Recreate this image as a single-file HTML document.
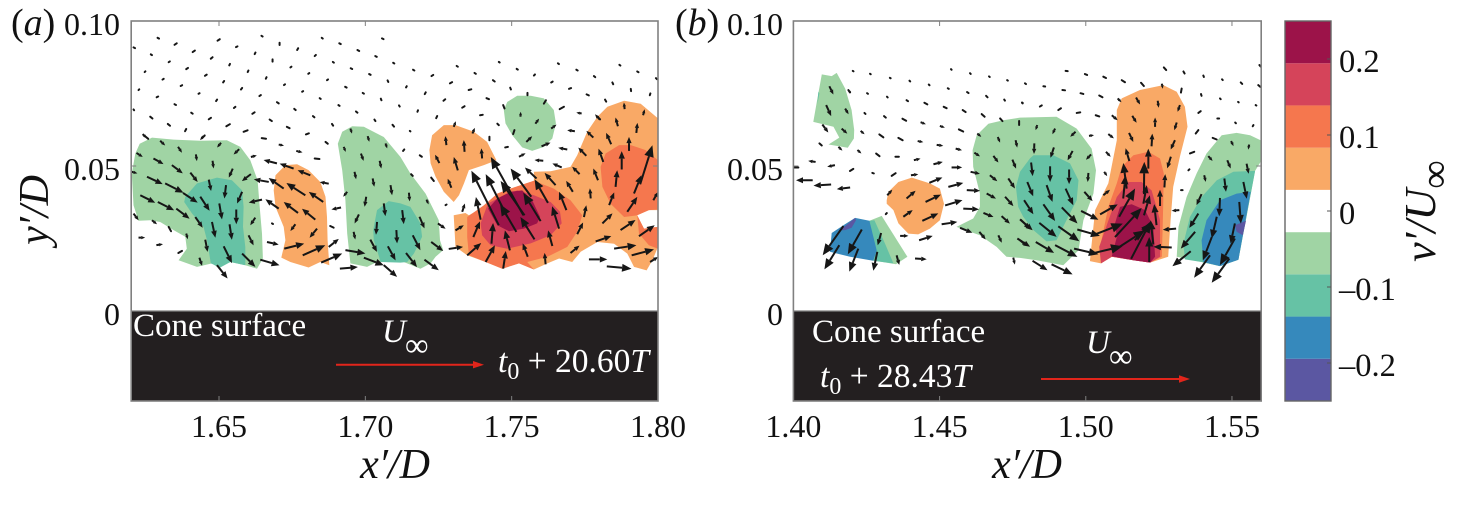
<!DOCTYPE html>
<html lang="en">
<head>
<meta charset="utf-8">
<title>Vertical velocity contours v'/U∞ with in-plane vectors over a cone surface</title>
<style>
html,body{margin:0;padding:0;background:#fff;}
svg{display:block;font-family:"Liberation Serif",serif;}
text{fill:#111;}
</style>
</head>
<body>
<svg id="chart" xmlns="http://www.w3.org/2000/svg" width="1477" height="507" viewBox="0 0 1477 507">
  <defs>
    <clipPath id="clip-a"><rect x="131.2" y="21" width="526.8" height="290"/></clipPath>
    <clipPath id="clip-b"><rect x="793.4" y="21" width="467.8" height="290"/></clipPath>
  </defs>
  <g id="panel-a">
    <rect x="131.2" y="311" width="526.8" height="90" fill="#231f20"/>
    <g id="contours-a" clip-path="url(#clip-a)"></g>
    <g id="vectors-a" clip-path="url(#clip-a)"></g>
    <g id="axis-a"></g>
    <text x="11" y="35" font-size="38"><tspan>(</tspan><tspan font-style="italic">a</tspan><tspan>)</tspan></text>
    <text x="395" y="478" font-size="42" text-anchor="middle" font-style="italic">x′/D</text>
    <text transform="translate(48,210) rotate(-90)" font-size="42" text-anchor="middle" font-style="italic">y′/D</text>
    <text x="133" y="336" font-size="33" style="fill:#fff">Cone surface</text>
    <text x="382" y="342" font-size="33" font-style="italic" style="fill:#fff">U</text>
    <text x="405" y="356" font-size="33" style="fill:#fff">∞</text>
    <text x="498" y="372" font-size="33.5" style="fill:#fff"><tspan font-style="italic">t</tspan><tspan font-size="24" dy="7">0</tspan><tspan dy="-7"> + 20.60</tspan><tspan font-style="italic">T</tspan></text>
    <g>
      <line x1="336" y1="364.7" x2="476" y2="364.7" stroke="#e1251b" stroke-width="2"/>
      <polygon points="484,364.7 473,361 473,368.4" fill="#e1251b"/>
    </g>
  </g>
  <g id="panel-b">
    <rect x="793.4" y="311" width="467.8" height="90" fill="#231f20"/>
    <g id="contours-b" clip-path="url(#clip-b)"></g>
    <g id="vectors-b" clip-path="url(#clip-b)"></g>
    <g id="axis-b"></g>
    <text x="675" y="35" font-size="38"><tspan>(</tspan><tspan font-style="italic">b</tspan><tspan>)</tspan></text>
    <text x="1027" y="478" font-size="42" text-anchor="middle" font-style="italic">x′/D</text>
    <text x="812" y="342" font-size="33" style="fill:#fff">Cone surface</text>
    <text x="1086" y="353" font-size="33" font-style="italic" style="fill:#fff">U</text>
    <text x="1109" y="367" font-size="33" style="fill:#fff">∞</text>
    <text x="820" y="387" font-size="33.5" style="fill:#fff"><tspan font-style="italic">t</tspan><tspan font-size="24" dy="7">0</tspan><tspan dy="-7"> + 28.43</tspan><tspan font-style="italic">T</tspan></text>
    <g>
      <line x1="1041" y1="379" x2="1182" y2="379" stroke="#e1251b" stroke-width="2"/>
      <polygon points="1190,379 1179,375.3 1179,382.7" fill="#e1251b"/>
    </g>
  </g>
  <g id="colorbar"></g>
  <text transform="translate(1435,211) rotate(-90)" font-size="44" text-anchor="middle"><tspan font-style="italic">v′/U</tspan><tspan font-size="40" dy="13">∞</tspan></text>
</svg>
<script>
// Axis limits and ticks
const xLimitsA = [1.62, 1.80];
const xLimitsB = [1.40, 1.56];
const yLimits = [-0.031, 0.10];
const xTicksA = [1.65, 1.70, 1.75, 1.80];
const xTickLabelsA = ["1.65", "1.70", "1.75", "1.80"];
const xTicksB = [1.40, 1.45, 1.50, 1.55];
const xTickLabelsB = ["1.40", "1.45", "1.50", "1.55"];
const yTicks = [0, 0.05, 0.10];
const yTickLabels = ["0", "0.05", "0.10"];

// Colour bar values
const colorbarEdges = [-0.25, -0.1944, -0.1389, -0.0833, -0.0278, 0.0278, 0.0833, 0.1389, 0.1944, 0.25];
const colorbarTicks = [0.2, 0.1, 0, -0.1, -0.2];
const colorbarTickLabels = ["0.2", "0.1", "0", "–0.1", "–0.2"];

// Contour boundaries: [x'/D * 1000, y'/D * 1000]
const greenA1 = [[1622.9,57.7],[1627.1,59.8],[1634.5,59.1],[1643.6,58.7],[1652.7,58.9],[1657.3,56.6],[1660.7,52],[1663.2,45.1],[1663.9,35.9],[1664.7,26.7],[1665,18.1],[1663,14.6],[1659,15.8],[1653.9,16.9],[1649.3,15.2],[1647.6,16.4],[1642.5,15.2],[1636.2,17.5],[1639,21.5],[1638.5,25.6],[1634.5,27.9],[1629.9,30.7],[1626.5,31.3],[1622.5,31.1],[1620.8,36.5],[1620.2,47.4],[1621.4,54.3]];
const tealA1 = [[1638.5,39.4],[1642.5,44],[1649.3,46],[1654.4,45.1],[1657.9,41.6],[1658.4,35.9],[1658.2,29],[1659,22.1],[1659,15.8],[1653.9,16.9],[1650.4,15],[1647.2,16.4],[1645.9,24.4],[1644.7,29],[1640.8,33.6],[1638.1,37.6]];
const orangeA1 = [[1669.3,46.8],[1672.7,50.3],[1676.7,50.6],[1680.6,48.6],[1684.6,44.5],[1686.4,39.4],[1686.9,32.4],[1687.1,24.4],[1687.7,15.8],[1684.6,16.9],[1680.6,15],[1674.4,16.9],[1671.3,18.4],[1672.7,24.4],[1672.1,29],[1669.3,35.9],[1668.7,41.6]];
const greenA2 = [[1690.6,57.7],[1692.1,61.8],[1695.5,63.7],[1699.5,63.5],[1706.3,60],[1712,53.1],[1715.4,47.4],[1720.6,40.5],[1725.1,31.3],[1725.5,24.4],[1726.6,21],[1724,18.7],[1722.3,16.4],[1718.8,14.6],[1713.1,16.9],[1704,16.9],[1700.6,15.2],[1694.9,16.4],[1693.8,26.7],[1693.2,38.2],[1692.1,48.6]];
const tealA2 = [[1702.7,27.9],[1704,34.8],[1708,37.9],[1712,37.1],[1715.4,35.9],[1718.8,30.2],[1719.4,25.6],[1716.6,19.8],[1714.3,16.9],[1712,16.7],[1705.2,16.9],[1704,21],[1702.9,24.4]];
const orangeA2 = [[1721.9,55.5],[1722.8,60.6],[1726.8,64.1],[1730.8,64.1],[1737.1,61.8],[1741.6,58.3],[1744.8,52],[1740.5,50.3],[1735.4,48.6],[1733.7,44],[1732,39.9],[1730.2,37.6],[1726.8,41.1],[1724,46.3],[1722.3,50.9]];
const greenA3 = [[1747.3,69.3],[1748.5,72.1],[1751.9,74.2],[1756.5,74.2],[1761,73.3],[1764.4,69.3],[1765.1,64.7],[1763.9,59.5],[1761,56.6],[1757,55.2],[1753.6,56.4],[1750.2,60.6],[1747.9,64.7]];
const orangeA3 = [[1730.2,33],[1734.2,33.8],[1735.4,33],[1740.5,35.9],[1745.1,40.5],[1749.6,42.2],[1757.6,44.9],[1757.6,48],[1763.3,48.2],[1770.1,49.7],[1772.4,53.7],[1775.8,61.8],[1779.3,67],[1782.7,70.4],[1788.4,72.5],[1794.1,71.5],[1800,66.4],[1800,34.8],[1796.9,34.8],[1792.9,33],[1795.2,28.4],[1800,29],[1800,22.1],[1798.1,17.5],[1796.1,14],[1791.8,15.2],[1789.5,19.8],[1785,23.2],[1779.3,23.8],[1773.6,20.4],[1770.7,16.9],[1766.2,18.1],[1762.2,16.4],[1757.6,14.3],[1752.5,16.4],[1746.8,14.6],[1741.1,16.9],[1734.8,19.2],[1730.8,22.1]];
const redA1 = [[1734.8,32.4],[1740.5,36.5],[1745.1,40.5],[1749.6,42.2],[1757.6,44.9],[1764.4,42.2],[1770.1,38.2],[1774.1,33],[1772.4,27.3],[1769,22.1],[1762.2,18.7],[1755.3,16.9],[1757.6,14.3],[1752.5,16.4],[1746.8,14.6],[1741.1,16.9],[1735.4,19.2],[1734.8,25.5]];
const pinkA1 = [[1739.4,30.2],[1741.9,37.1],[1746.2,39.3],[1751.9,41.6],[1757.6,39.9],[1763.3,37.6],[1766.5,34.2],[1767.1,30.2],[1763.3,26.1],[1756.5,23.3],[1748.5,21.5],[1742.8,22.7],[1739.9,26.1]];
const wineA1 = [[1741.9,35.3],[1745.1,38.8],[1749.6,41.1],[1753.6,41.6],[1757,38.2],[1759.7,32.4],[1758.7,30.2],[1754.2,28.4],[1749.1,27.5],[1745.1,29.6]];
const redA2 = [[1780.4,49.7],[1782.1,54.3],[1786.7,57.2],[1790.7,57.2],[1795.8,55.5],[1800,52],[1800,35],[1796.9,34.8],[1792.9,33],[1788.4,32.4],[1783.8,37],[1781,42.8]];
const redA3 = [[1792.9,33],[1795.2,28.4],[1800,29],[1800,21.5],[1796.9,22.7],[1793.5,26.7]];

const greenB1 = [[1409.7,81.6],[1413.1,81],[1414.8,82.1],[1417.7,76.7],[1419.9,69.3],[1420.8,62.4],[1420.7,59.5],[1418.6,56.3],[1412,57.4],[1415.7,59.8],[1413.7,63.5],[1406.8,65.2],[1408,72.1]];
const tealB1 = [[1408.5,75.6],[1408.9,75],[1408.2,71.3]];
const orangeB1 = [[1431.9,38.2],[1432.5,41.1],[1435.9,44.5],[1440.5,46],[1446.7,44],[1450.1,42.2],[1451.5,37],[1450.1,31.3],[1446.7,28.4],[1442.7,26.4],[1439.3,26.7],[1435.9,30.2],[1434.2,34.8],[1431.9,37]];
const greenB2 = [[1426,31.1],[1430.2,32.8],[1439,18.7],[1435.1,16.1],[1426.8,17.5]];
const tealB2 = [[1426,31.1],[1427.7,31.3],[1431.3,23.3],[1434.2,16.4],[1427.3,17.3]];
const blueB1 = [[1413.1,26.9],[1417.1,29.6],[1421.1,32.1],[1426,31.1],[1428.5,20.9],[1427.3,17.3],[1419.4,18.7],[1412.5,20.4]];
const purpleB1 = [[1415.4,27.8],[1417.7,29.3],[1421.1,32.1],[1421.4,31.3],[1419.9,28.7],[1417.7,27.9]];
const greenB3 = [[1461.3,55.5],[1462.7,60.6],[1466.7,64.6],[1471.8,65.8],[1477.5,66.7],[1490,67],[1496.9,62.9],[1502,56],[1503.5,48.5],[1502.6,40.5],[1499.2,31.3],[1497.5,20.9],[1492.3,15.8],[1483.2,17.5],[1477.5,18.3],[1472.9,18.7],[1469.5,22.1],[1463.8,26.1],[1455.8,29],[1461.5,31.9],[1463.8,35.9],[1463.8,40.5],[1461.5,49.7]];
const tealB3 = [[1476.1,42.8],[1477.5,48],[1480.9,52.6],[1482.1,53.7],[1488.9,53.7],[1494.6,50.9],[1497.5,45.1],[1496.9,38.2],[1494,32.5],[1490,24.4],[1486.6,24],[1482.1,27.9],[1478.6,32.5],[1476.9,35.9]];
const orangeB2 = [[1510.6,69.3],[1512.3,73.3],[1518.5,76.2],[1526.5,77.9],[1531.1,75.6],[1533.9,70.4],[1534.8,63.5],[1532.2,53.2],[1529.9,42.8],[1529,31.3],[1528.2,18.7],[1522,16.7],[1516.3,17.5],[1508.9,18.7],[1505.2,16.4],[1501.4,17.2],[1503.2,34.8],[1507.7,44],[1510.6,58.9]];
const redB1 = [[1512.3,49.7],[1516.3,53.7],[1521.4,54.9],[1525.4,52.6],[1526.7,47.4],[1526.5,38.2],[1526.3,29],[1526,18.7],[1522,16.7],[1516.3,17.5],[1508.9,18.7],[1505.2,16.4],[1504.9,22.1],[1507.7,35.9],[1510.6,44]];
const pinkB1 = [[1514.6,44.5],[1519.1,44.5],[1522.5,41.6],[1524.2,35.9],[1525.4,31.3],[1525.4,18.7],[1522,16.7],[1516.3,17.5],[1508.9,18.7],[1505.2,16.4],[1504.6,22.1],[1507.4,30.2],[1510.6,39.3]];
const wineB1 = [[1511.7,35.9],[1515.7,36.8],[1520.3,34.8],[1523.1,29],[1523.7,18.7],[1522,16.7],[1516.3,17.5],[1508.9,18.9],[1510.6,25.5],[1510,30.2]];
const greenB4 = [[1531.1,18.7],[1531.7,29],[1534.5,39.3],[1537.9,47.4],[1541.3,54.3],[1546.5,60.6],[1551.6,61.4],[1556.2,60.6],[1559.8,58.9],[1559.8,51.4],[1557.9,48.3],[1552.2,17.7],[1545.9,15.5],[1539.6,16.9]];
const tealB4 = [[1533.9,17.8],[1533.4,23.2],[1535.6,32.4],[1539.6,39.3],[1544.8,45.1],[1550.5,48],[1557.9,48.3],[1552.2,17.7],[1545.9,15.5],[1539.6,16.9]];
const blueB2 = [[1539.6,24.4],[1541.3,31.3],[1545.9,38.2],[1551.6,40.5],[1556.4,41.1],[1552.2,17.7],[1545.9,15.5],[1540.2,16.9]];
const purpleB2 = [[1551,29.6],[1554.8,31.1],[1553.7,26.1],[1551.6,27.3]];

// Draw order with the v'/U contour value of each filled region
const regionsA = [
  ["green-a1", -0.056, greenA1], ["teal-a1", -0.111, tealA1], ["orange-a1", 0.056, orangeA1],
  ["green-a2", -0.056, greenA2], ["teal-a2", -0.111, tealA2], ["orange-a2", 0.056, orangeA2],
  ["green-a3", -0.056, greenA3], ["orange-a3", 0.056, orangeA3], ["red-a1", 0.111, redA1],
  ["pink-a1", 0.167, pinkA1], ["wine-a1", 0.222, wineA1], ["red-a2", 0.111, redA2], ["red-a3", 0.111, redA3]
];
const regionsB = [
  ["green-b1", -0.056, greenB1], ["teal-b1", -0.111, tealB1], ["orange-b1", 0.056, orangeB1],
  ["green-b2", -0.056, greenB2], ["teal-b2", -0.111, tealB2], ["blue-b1", -0.167, blueB1], ["purple-b1", -0.222, purpleB1],
  ["green-b3", -0.056, greenB3], ["teal-b3", -0.111, tealB3], ["orange-b2", 0.056, orangeB2], ["red-b1", 0.111, redB1],
  ["pink-b1", 0.167, pinkB1], ["wine-b1", 0.222, wineB1], ["green-b4", -0.056, greenB4], ["teal-b4", -0.111, tealB4],
  ["blue-b2", -0.167, blueB2], ["purple-b2", -0.222, purpleB2]
];

// Velocity vectors: [x'/D * 1000, y'/D * 1000, u/U * 100, v/U * 100]
const calmVectorsA = [
[1629,94.2,1,-.5],[1620.8,90.9,1,-.5],[1634.8,91.8,1.5,1],[1649.5,93.2,1.5,1],[1664.5,94.9,.8,-.5],[1670.7,92.5,0,-1.5],[1685.1,94.2,.7,-.5],[1691.1,92.3,1,-.5],[1705.7,94,1,-.5],
[1641,89.3,1.5,1],[1655.8,91,1,.5],[1626.7,88.5,.8,-.5],[1662.2,88.6,.5,1],[1676.7,90,.7,1.2],[1697.3,90,1.2,-.7],[1647.2,87,1.2,1],[1632.8,85.8,.8,.5],[1653.5,84.7,.5,1],[1668.3,86,0,1.5],[1682.7,87.9,.8,.8],[1688.9,85.9,.7,-.5],[1703.4,87.9,1,-.5],
[1624.6,82.4,.5,.5],[1638.8,83.4,1.2,.8],[1659.8,82.4,.5,1],[1674.4,84,.7,.5],[1695,83.7,1,-.5],[1709.5,85.6,.8,-.5],[1630.7,79.8,.8,.5],[1645.2,81.1,1.2,.8],[1666,80.1,.5,1],[1680.5,81.8,.7,.5],[1701.3,81.7,1,-.5],
[1622.5,76.2,.5,.5],[1636.9,77.6,1,.5],[1651.4,78.8,.7,1],[1672.2,77.9,.7,.5],[1686.9,79.6,.7,.5],[1707.6,79.5,.5,-1],[1628.7,73.7,1,.5],[1643,74.9,.7,.4],[1657.5,76.4,.8,1],[1678.4,75.6,.7,.4],[1693.1,77.3,1,-.5],
[1634.8,71.3,1,-.5],[1649,72.4,.7,1],[1663.8,74.1,1,.7],[1684.4,73.4,.7,-.5],[1699.1,75.2,.8,-.5],[1705.3,73.2,.4,-1],[1620.8,69.5,.4,-.5],[1640.5,68.4,1,-.7],[1655.1,70,1,.8],[1669.8,72,1.2,-.8],[1690.8,71,.8,-.5],[1711.5,70.9,.5,-.8],
[1626.5,67,1.5,-1.2],[1646.5,66.1,1.5,1],[1661.4,68,1.5,1],[1675.7,69.7,1,-.8],[1696.8,68.8,1,-.8],[1632.5,64.5,1.5,-1.2],[1652.5,63.7,2.4,1.4],[1667.3,66,1.5,-1],[1682.1,67.2,1,-.8],[1703.1,66,.7,-1],
[1638.4,62,.8,1.5],[1658.4,61.8,2.7,1],[1673.2,63.5,1.8,-.9],[1688.6,64.5,.8,-1.2],[1709.3,64.2,1,-1.2],[1624.6,60.4,2.4,-2],[1644.2,59.6,1.8,1.8],[1664.6,59.6,2.9,-.4],[1679.7,60.9,2,.7],[1670.4,57.4,3.6,-.8],[1686.4,58.3,1.5,-1.2],[1676.4,55.2,4.2,-1],[1682.7,52.6,3.2,-.4],
[1716.3,83.2,.9,-.5],[1731.2,84.5,.8,-.5],[1745.6,85.9,.6,-.4],[1765.8,85.4,.7,-.5],[1786.8,84.9,.7,-.5],[1722.6,81,1.2,.8],[1737.3,82.1,.9,-.6],[1751.7,83.5,.8,-.5],[1772.1,83.2,.9,-.5],[1792.9,82.6,.9,-.5],
[1713.9,77.1,.5,.8],[1728.9,78.5,1.5,.8],[1743.6,79.6,1.2,-.9],[1757.6,81.2,.7,.7],[1778.1,81,.9,-.7],[1799.3,80.3,.7,-.7],[1720.3,74.8,.7,1.2],[1735.3,76.2,1.8,.5],[1749.5,77,.5,-1.2],[1763.5,78.8,1,.6],[1784.4,78.8,.6,-1.2],
[1726.7,72.5,1.2,1],[1741.4,73.4,1.7,-.7],[1769.6,76.6,1.4,.5],[1790.7,76.6,.2,-1.5],[1717.8,68.7,.4,1],[1733.1,70.1,1.6,1],[1755.4,74.4,0,1.6],[1775.6,74.7,1.5,-.7],[1797.2,74.4,.4,1.2],
[1724.2,66.5,.7,1.4],[1739.2,67.5,1.8,.3],[1781.9,72.9,.8,-1.4],[1715.2,62.1,.4,-.3],[1745.1,64.6,1,-1],[1779.3,67,1.8,-1.8],[1712.9,55.2,.8,1],[1718.6,53.7,1.4,-1],[1747.8,56.4,1.8,.4]
];
const flowVectorsA1 = [
[1621.8,54.5,4.3,-2.7],[1627.6,52.6,6.8,-3.8],[1633.9,50.3,7.4,-5.6],[1620.2,48,3.8,-1.1],[1625.4,46.3,10.6,-5],[1631.6,44,12.4,-6.3],[1637.7,40.7,9.9,-6.5],[1623.1,39.9,10.1,-5],[1629.1,37.6,11,-5.6],[1635.4,35.3,9,-6.8],
[1620.8,33.6,3.4,-4.5],[1627.1,31.3,3.4,-2.7],[1632.8,29,1.6,-2.9],[1622.5,25.3,4.5,0],[1628.6,22.7,4.5,.7],[1636.1,20,2.5,1.4],[1638.8,26.7,1.1,-3.8],[1641.9,32.4,5,-7.2],[1640.2,47.7,5,-6.3],[1642.1,54,.7,-4.5],[1636,56.6,2.7,-4],[1629.9,58.7,3.4,-3.2],[1623.9,61,2.9,-2.7],
[1644.7,60.3,-2.3,-2.7],[1650.7,58,-2.7,-3.2],[1647.8,51.8,.7,-5.2],[1654.7,49.1,-2.7,-6.1],[1656.9,55.8,-3.8,-3.6],[1660.9,47.2,-6.1,-4.7],[1646.5,45.3,1.6,-7.7],[1652.4,43.4,-1.1,-9],[1657.9,41.1,-3.4,-7.9],[1643.6,39.4,6.3,-9.5],[1650.1,37.1,1.8,-10.8],[1655.9,35,0,-9.9],[1662.4,32.2,-3.4,-5.2],
[1647.6,30.7,2.3,-10.6],[1653.6,29.9,1.6,-10.4],[1660.1,26.1,3.4,-6.8],[1645.3,24.6,1.6,-8.3],[1651.6,22.3,5.6,-11.3],[1657.9,19.8,9,-9],[1643.3,18.4,1.8,-5.6],[1649.3,15.8,7.2,-9],[1664.1,17.7,13,-3.8],[1666.4,23.8,7.9,-1.8],[1668.1,30.2,.7,-.4],[1660.9,53.1,4,1.1],
[1675.5,49.1,-9.5,3.4],[1681.2,46.8,-8.6,3.4],[1687.5,43.9,-6.1,1.1],[1669.8,50.9,-9,2.3],[1667,44.5,-10.1,1.8],[1672.1,42.2,-10.1,7.2],[1679.5,39.9,-12.8,8.3],[1685.6,37.6,-9.7,6.8],[1664.7,38.4,-9,-2],[1670.4,35.3,-9,6.3],[1677,33.8,-9.7,7.4],[1682.9,31.5,-9,7.4],[1676.1,29.9,-3.4,-4.5],[1683.5,28.4,-5,-6.1],
[1672.3,21.5,13.5,3.4],[1678.6,19.2,15.3,6.8],[1684.9,16.7,14.2,6.1],[1687.5,22.1,6.8,5.4],[1691.3,14.6,12.2,1.1],[1693.2,21,13.5,-2.3],[1699.5,18.4,13.5,-5.2],[1688,29.3,2.3,-1.1],[1691.7,35.7,-6.5,-1.4],[1693.8,41.1,-2.7,-3.4],
[1698.5,54.3,1.8,-5],[1692.6,56.6,1.4,-3.4],[1694.9,62.9,1.1,-3.4],[1700.8,60.3,1.1,-3.8],[1706.9,57.8,1.1,-3.4],[1704.9,51.8,1.1,-5.2],[1696.3,48,1.1,-5],[1702.5,45.7,1.1,-5.6],[1708.6,43.4,1.1,-6.8],[1700.3,39.4,-1.1,-6.8],[1706.3,37.1,1.1,-8.6],[1697.8,33.3,-2.9,-6.1],[1704,30.7,-.7,-8.6],[1710.6,27.9,.5,-9],[1696,27.3,1.1,-5.2],[1701.7,24.6,4.5,-8.3],[1707.7,22.3,5.2,-9.5],[1706.3,15.8,9,-7.9]
];
const flowVectorsA2 = [
[1714.9,40.8,.5,-5.9],[1720.9,38.4,1.4,-3.2],[1712.6,34.8,1.1,-9.5],[1718.5,32.5,3.4,-7.9],[1724.8,30.2,5.2,-3.6],[1716.2,26.1,5.2,-10.1],[1722.5,23.8,8.1,-6.1],[1713.9,20,7.4,-9.5],[1720.2,17.7,9.7,-7.2],[1728.5,21.4,9.7,1.4],[1716.2,46.6,-1.1,1.1],[1722.5,46,1.8,-2.3],
[1727.7,57.2,-.7,6.1],[1733.9,54.9,-.5,7.9],[1739.9,52.6,-.5,6.8],[1725.3,51,-2.9,5.6],[1731.6,48.5,-2.7,9],[1729.4,42.5,-2.5,6.1],[1730.2,63.5,1.4,3.8],[1736.6,61.2,1.6,3.8],[1742.4,58.9,0,2.3],[1733.1,34.2,1.8,5.6],[1727.4,36.5,.7,.4],
[1754,33,-22,39.4],[1745.6,29.6,-18.5,36.7],[1748.5,32.5,-14.6,28.8],[1756.7,39.4,-14,19.1],[1759.9,31,-11.7,19.1],[1754.4,33,-16.2,23.2],[1739.4,31.5,-3.2,15.3],[1751.6,27.3,-11,18.7],[1757.8,24.7,-9.5,15.1],[1762.4,37.3,-9,15.8],[1758.5,45.7,-7.9,7.4],[1766.2,28.4,-4.7,15.1],[1768.7,34.8,-5,12.4],[1770.9,41.1,-4.5,7.4],[1765,43.4,-7.4,8.3],
[1736.9,25.5,4.5,10.6],[1741.1,16.9,6.3,11.3],[1734.8,19.2,9.5,8.3],[1749.4,20.9,-3.4,13.5],[1743.1,23.2,1.1,14],[1755.5,18.7,-3.4,9],[1763.9,22.4,-2.9,10.6],[1747.1,14.6,1.8,11.9],[1761.6,16.1,-.7,7.7],[1730.8,27.8,5.6,3.4],[1770.1,20,6.1,5],
[1772.4,26.5,4,7.9],[1774.7,32.4,1.6,7.9],[1777,38.8,-.5,6.8],[1779.5,45.1,-3.2,7.9],[1773.2,47.2,-5,5],[1781.3,51.4,-3.2,9],[1775.5,53.5,-5.4,5.6],[1784,57.5,-3.4,7.7],[1777.9,59.8,-4.7,4.5],[1786.3,63.7,-1.6,5.9],[1780.1,66,-3.2,3.6],[1788.6,69.6,-.5,4.5],[1794.9,67.5,1.1,4],[1792.6,61.4,.7,6.8],[1790.1,55.2,0,9.5],[1787.6,48.8,0,12.4],[1785.5,42.8,1.1,11.3],[1783.3,36.5,3.4,8.6],[1781,30.2,6.8,6.8],[1789.5,34.2,6.8,10.1],[1791.8,40.5,5,12.4],[1793.9,43.7,8.3,26.3],[1798.4,38.2,3.2,5.6],
[1787.2,27.9,10.1,6.8],[1778.7,24,10.6,3.6],[1793.5,25.8,10.6,7.4],[1785,21.5,15.1,2.3],[1791,19.2,15.1,4],[1782.5,15.4,16.7,-1.6],[1776.4,17.8,12.4,0],[1797.3,16.9,5.4,3.4],
[1769,55.7,-6.1,1.1],[1771.6,62,-5.2,.7],[1773.9,68.1,-3.6,.7],[1766.4,69.6,2.9,1.6],[1760.8,51.8,-5.9,.5],[1767.1,49.5,-6.3,2.7],[1760.2,56.8,6.1,2.5],[1752.5,53.2,4.5,2.3],[1750.5,61,.9,2.7],[1755,58.3,4,3.8],[1758.1,64.6,2.5,3.4],[1753,67,.2,3.4],[1761,71.5,1.4,2.3],[1747.1,71,.9,-2.3],[1763.5,62.9,3.6,2.7]
];
const calmVectorsB = [
[1420.3,82.8,.5,-.3],[1426.2,81.8,.5,-.3],[1433,80.4,.5,-.3],[1439.7,79.4,.5,-.5],[1446.3,78.1,.5,-.5],[1419.1,75.8,.6,-.6],[1425.2,75.1,.6,-.4],[1432,73.9,.5,-.5],[1438.7,72.7,1,-.7],[1452.8,76.8,.7,-.4],[1459.4,75.5,1,-.7],[1465.9,74.2,1,-1],[1472.1,72.9,.5,-.7],[1478.2,71.8,.4,-.4],
[1453.9,83.4,.4,-.4],[1460.4,82,.5,-.5],[1466.9,80.9,.5,-.4],[1473.1,79.6,.5,-.3],[1479.2,78.5,.7,-.5],[1424.3,68.3,.7,-.7],[1431,67.2,1.2,-1],
[1493.1,82.8,1.4,-.2],[1499.7,81.7,1.5,-.6],[1506,80.8,1.8,-.9],[1512.3,79.6,2.2,-1.4],[1518.9,78.7,1.9,-2.2],[1526.7,84,1.6,-1.8],[1533.4,82.6,.8,-1.4],[1540.2,81.2,.4,-1],[1546.6,79.9,.5,-.5],[1553,78.8,1,-1],[1559.4,84.8,.8,-1],[1559,77.9,1.4,-1.2],
[1485.5,77.5,1.2,-.2],[1492,76.2,1.8,-.2],[1498.2,75.1,1.9,-.5],[1504.6,74.3,2.2,-1.2],[1510.9,73.3,2.6,-2.6],[1478.2,71.9,.5,-.3],[1484.3,70.5,1.3,.8],[1490.6,69.3,1.8,1.2],[1496.9,68.3,2.4,.4],[1503.4,67.5,2.4,-.8],[1539.4,74.8,.4,-1.2],[1545.9,73.3,.5,-.5],[1552.1,72.1,.4,-.3],[1558.1,71,.5,-.3],[1538.5,68.3,1.6,1.2],[1545,66.4,1.2,0],[1551.1,65,.5,-.5],[1557.1,63.7,.5,.8]
];
const flowVectorsB1 = [
[1412.3,77.5,2.7,-5.6],[1411.2,71,3.4,-7.4],[1417.7,69.8,2.3,-3.8],[1409.9,64.3,4,-5.4],[1416.5,62.9,3.8,-3.4],[1408.9,57.8,1.6,-1.4],[1415.4,56.6,2.7,-2.5],[1418.8,76.2,1.1,-1.6],
[1423,62.1,2.7,-2.3],[1429.4,60.9,2.7,-2],[1435.9,59.7,2.9,-1.6],[1442.5,58.6,3.8,-.7],[1449,57.3,4.5,-.7],[1455.5,56,4.3,-1.1],[1421.9,55.5,2.7,-2.3],[1428.3,54.3,2.3,-1.8],[1434.9,53.2,2.3,0],[1437.3,66.3,2.5,-1.4],[1443.5,65.1,3.6,-1.4],[1450.1,63.8,3.4,-1.1],[1456.6,62.6,2.9,-1.4],[1462.9,61.2,2.7,-2.3],[1444.8,71.8,2,-1.1],[1451.4,70.4,2,-.9],[1457.9,69.3,2,-1.4],[1464.4,67.9,2,-1.8],[1470.7,66.4,1.6,-1.8],[1477.2,65.5,0,-2.7],
[1407.6,51.4,-5,.7],[1414.2,50.3,-5.2,-1.1],[1420.5,49,-2.3,-1.4],[1401.7,49.5,-2.9,0],[1406.6,45.1,-11.3,0],[1412.9,43.6,-11.9,-.7],[1419.4,42.6,-9,-1.1],[1427,47.6,1,-.3],[1433.6,46.6,2.7,1.8],[1441.2,52,4.5,1.1],[1447.9,50.6,6.3,1.6],[1454.1,49.5,7.2,0],[1460.6,48,6.3,-1.4],[1461.9,54.6,3.8,-2.5],[1468.4,53.5,3.4,-4.5],[1474.9,52.2,2.5,-6.1],[1469.9,60,1.6,-3.8],[1476,58.9,1.1,-5],
[1440.2,46.8,5,.7],[1446.5,44.2,8.8,3.6],[1453,42.8,10.1,2.7],[1459.3,41.7,9,-.5],[1451.9,36.4,11.7,3.6],[1458.1,35.3,10.6,-.5],[1450.7,29.9,10.6,1.6],[1432.1,39.9,3.4,3.8],[1438.7,38.8,6.1,5.2],[1445.2,37.6,10.4,5],[1437.6,32.5,6.3,4.5],[1444.1,31.1,10.8,5],[1431.6,33.4,.7,.7],[1436.5,25.9,5.6,0],[1443,24.4,9.2,2.9],[1441.6,18.1,7.9,-.5],
[1457,28.7,8.3,-3.4],[1463.6,27.3,4.3,-5.2],[1470.1,26.1,2.3,-5],[1476.6,25,8.6,-5.6],[1475.2,18.4,1.1,-4.7],[1465,33.8,6.8,-2.7],[1466.1,40.5,6.3,-3.4],[1467.2,46.8,5,-4],[1473.5,45.7,4.5,-6.8],[1471.2,32.7,5.6,-5],[1472.4,39.4,5.6,-6.3],[1477.7,31.5,6.3,-6.1],
[1417.1,29.3,-14,-19.8],[1423.4,28.1,-9.5,-16.7],[1415.7,22.7,-10.1,-16.4],[1422.2,21.5,-6.1,-15.5],[1430,26.9,-2.3,-8.3],[1428.7,20.4,-2.7,-12.8],[1435.3,19.2,1.8,-6.5]
];
const flowVectorsB2 = [
[1483.4,64.1,-1.1,-3.4],[1489.5,62.9,-1.8,-3.8],[1496.5,61.8,-3.6,-3.4],[1501.1,60.4,3.4,.5],[1507.7,61,3.8,-2.9],[1482.4,57.8,-.2,-7.2],[1489.1,56.4,-2.3,-7],[1495.5,55.2,-3.4,-6.3],[1501.8,54,-3.4,-3.6],[1481.3,51.2,1.1,-9.2],[1487.8,49.9,0,-10.6],[1494.3,48.8,0,-9.9],[1500.9,47.6,-.5,-6.1],[1480,44.5,4,-9.7],[1486.6,43.4,4,-11.3],[1493.1,42.2,5.2,-11.3],[1499.5,41.1,5.6,-6.3],
[1478.9,38.2,6.3,-9.5],[1485.5,36.8,7.9,-11.3],[1491.8,35.7,10.6,-10.8],[1498.4,34.5,11.7,-5.9],[1477.5,31.6,8.6,-7.4],[1484.1,30.4,11.7,-9.5],[1490.6,29.2,14.2,-10.1],[1497.1,28.1,15.3,-4.3],[1477.5,24.4,4.5,-3.8],[1482.9,23.8,12.4,-7.4],[1489.5,22.7,15.1,-7.9],[1496,21.5,16.4,-3.8],[1481.8,17.3,10.1,-6.3],[1488.3,16.1,14.2,-6.8],[1506.9,54.9,3.2,-3.4],[1506.3,48,2,-2.9],[1506,39.9,4.5,3.8],
[1517.2,73.6,2.7,-4.7],[1526,78.4,.7,-3.4],[1532.8,76.7,-.5,-2.7],[1524.6,72.5,.7,-4.7],[1532.2,71,-1.6,-4.5],[1515.9,67.3,2.9,-4.7],[1523.7,63.5,0,6.3],[1531.1,65,-1.6,-5.2],[1508.9,67.5,4,-3.4],[1537.6,61.2,1.8,2.3],[1543.4,59.7,2.7,-1.1],[1522.5,56.8,.5,8.6],[1530.5,58.9,-2.9,-6.3],[1514.8,61.4,2.9,-6.1],[1514.9,51.7,-2.5,8.6],[1521.4,49.1,0,13.5],[1529.1,53.2,-2.5,-7.9],
[1514,42.2,-2.3,17.3],[1512.8,38.8,1.6,15.8],[1519.9,40.3,.2,21.8],[1526.9,42.6,.5,9],[1525.4,36.2,0,11],[1532,34.8,-5.2,-.5],[1524.2,29.6,-1.6,14.2],[1519.7,37,2.3,12.4],[1511.4,32.5,10.8,19.1],[1504.9,33.3,11.9,6.8],[1510,25.5,18,19.6],[1519.9,33,4,13.5],[1502.4,26.1,20.3,7.9],[1515.5,18,13.3,25.4],[1502,19.8,20.9,5],[1521.7,16.9,0,16.9],[1516.8,24.4,10.1,11.3],[1510.6,21.5,19.1,12.4],[1523.1,23,-1.8,16.2],[1530.9,28.4,-9,-.7],[1529.4,21.9,-12.4,.5],
[1532.6,41.7,1,0],[1535.1,48.5,.7,.7],[1537.1,54.9,-2.9,-1.1],[1541.9,53.4,2.9,-3.2],[1548.4,52,2.3,-5.6],[1540.5,46.8,1.1,-4.5],[1549.7,58.6,1.6,-3.4],[1555.9,57.4,-.7,-3.4],[1555,50.8,1.4,-6.8],[1547.4,45.7,1.1,-9],[1553.9,44.5,2.3,-11.3],[1539.6,40.3,-3.4,-7.4],[1538.5,33.6,-6.1,-9.7],[1545.9,39,-.5,-12.4],[1552.5,37.6,1.1,-14.6],[1537.4,27.3,-9.7,-11.3],[1544.8,32.5,-3.4,-14.6],[1542.5,19.2,-10.8,-15.1],[1549.1,18.1,-11.9,-16.4],[1551,25,-10.1,-18],[1551,30.2,-2.9,-13.5],[1535.9,20.6,-12.4,-10.1],[1543.1,25.5,-6.1,-15.8]
];

// Scales
const SVG_NS = "http://www.w3.org/2000/svg";
const plotTop = 21, plotBottom = 401, zeroY = 311, pxPerYUnit = 2900;
const axA = { left: 131.2, right: 658 };
const axB = { left: 793.4, right: 1261.2 };
const pxPerU = 148; // length of the U-infinity reference arrow
function xScale(ax, lim, v) { return ax.left + (v - lim[0]) / (lim[1] - lim[0]) * (ax.right - ax.left); }
function yScale(v) { return zeroY - v * pxPerYUnit; }
function barScale(v) { return 211 - v * 760; }
const bandPalette = ["#5b57a2", "#3689bc", "#66c2a5", "#a0d4a4", "#ffffff", "#f9a966", "#f5774e", "#d5445a", "#9c1349"];
function bandColor(v) {
  for (let i = 0; i < colorbarEdges.length - 1; i++) {
    if (v >= colorbarEdges[i] && v < colorbarEdges[i + 1]) return bandPalette[i];
  }
  return bandPalette[bandPalette.length - 1];
}
function make(tag, attrs, parent) {
  const el = document.createElementNS(SVG_NS, tag);
  for (const k in attrs) el.setAttribute(k, attrs[k]);
  parent.appendChild(el);
  return el;
}

function drawRegions(regions, ax, lim, parent) {
  regions.forEach(function (region) {
    const pts = region[2].map(function (p) {
      return xScale(ax, lim, p[0] / 1000).toFixed(1) + "," + yScale(p[1] / 1000).toFixed(1);
    }).join(" ");
    const poly = make("polygon", { points: pts, fill: bandColor(region[1]) }, parent);
    
    
  });
}
function drawVectors(vectors, ax, lim, parent) {
  vectors.forEach(function (vec) {
    const x0 = xScale(ax, lim, vec[0] / 1000);
    const y0 = yScale(vec[1] / 1000);
    const dx = vec[2] / 100 * pxPerU;
    const dy = -vec[3] / 100 * pxPerU;
    const len = Math.hypot(dx, dy) || 1;
    const group = make("g", {}, parent);
    
    
    const ux = dx / len, uy = dy / len;
    if (len < 5) {
      make("line", { x1: x0, y1: y0, x2: x0 + dx, y2: y0 + dy, stroke: "#161616", "stroke-width": 2, "stroke-linecap": "round" }, group);
      return;
    }
    const head = Math.min(11.5, 0.3 * len + 2);
    const half = head * 0.42;
    const bx = x0 + dx - ux * head, by = y0 + dy - uy * head;
    make("line", { x1: x0, y1: y0, x2: bx, y2: by, stroke: "#161616", "stroke-width": 2 }, group);
    make("polygon", {
      points: (x0 + dx).toFixed(1) + "," + (y0 + dy).toFixed(1) + " " +
        (bx - uy * half).toFixed(1) + "," + (by + ux * half).toFixed(1) + " " +
        (bx + uy * half).toFixed(1) + "," + (by - ux * half).toFixed(1),
      fill: "#161616"
    }, group);
  });
}
function drawAxis(ax, lim, ticks, labels, yLabelRight, parent) {
  const frameColor = "#808080";
  const frame = make("rect", { x: ax.left, y: plotTop, width: ax.right - ax.left, height: plotBottom - plotTop, fill: "none", stroke: frameColor, "stroke-width": 1.6 }, parent);
  
  
  const zero = make("line", { x1: ax.left, x2: ax.right, y1: zeroY, y2: zeroY, stroke: frameColor, "stroke-width": 1.2 }, parent);
  
  
  ticks.forEach(function (t, i) {
    const x = xScale(ax, lim, t);
    make("line", { x1: x, x2: x, y1: plotTop, y2: plotTop + 5, stroke: frameColor, "stroke-width": 1 }, parent);
    make("line", { x1: x, x2: x, y1: plotBottom, y2: plotBottom - 5, stroke: frameColor, "stroke-width": 1 }, parent);
    const label = make("text", { x: x, y: 437, "font-size": 32, "text-anchor": "middle" }, parent);
    
    
    label.textContent = labels[i];
  });
  yTicks.forEach(function (t, i) {
    const y = yScale(t);
    make("line", { x1: ax.left, x2: ax.left + 5, y1: y, y2: y, stroke: frameColor, "stroke-width": 1 }, parent);
    make("line", { x1: ax.right, x2: ax.right - 5, y1: y, y2: y, stroke: frameColor, "stroke-width": 1 }, parent);
    const label = make("text", { x: yLabelRight, y: y + 14, "font-size": 32, "text-anchor": "end" }, parent);
    
    
    label.textContent = yTickLabels[i];
  });
}
function drawColorbar(parent) {
  const left = 1285, right = 1331;
  for (let i = 0; i < bandPalette.length; i++) {
    const y1 = barScale(colorbarEdges[i]), y2 = barScale(colorbarEdges[i + 1]);
    const band = make("rect", { x: left, y: y2, width: right - left, height: y1 - y2, fill: bandPalette[i] }, parent);
    
    
  }
  make("rect", { x: left, y: plotTop, width: right - left, height: plotBottom - plotTop, fill: "none", stroke: "#666", "stroke-width": 1.4 }, parent);
  colorbarTicks.forEach(function (t, i) {
    const y = barScale(t);
    make("line", { x1: right - 4, x2: right, y1: y, y2: y, stroke: "#555", "stroke-width": 1 }, parent);
    const label = make("text", { x: 1339, y: y + 13, "font-size": 32.5 }, parent);
    
    
    label.textContent = colorbarTickLabels[i];
  });
}

drawRegions(regionsA, axA, xLimitsA, document.getElementById("contours-a"));
drawRegions(regionsB, axB, xLimitsB, document.getElementById("contours-b"));
drawVectors(calmVectorsA, axA, xLimitsA, document.getElementById("vectors-a"));
drawVectors(flowVectorsA1, axA, xLimitsA, document.getElementById("vectors-a"));
drawVectors(flowVectorsA2, axA, xLimitsA, document.getElementById("vectors-a"));
drawVectors(calmVectorsB, axB, xLimitsB, document.getElementById("vectors-b"));
drawVectors(flowVectorsB1, axB, xLimitsB, document.getElementById("vectors-b"));
drawVectors(flowVectorsB2, axB, xLimitsB, document.getElementById("vectors-b"));
drawAxis(axA, xLimitsA, xTicksA, xTickLabelsA, 120, document.getElementById("axis-a"));
drawAxis(axB, xLimitsB, xTicksB, xTickLabelsB, 783, document.getElementById("axis-b"));
drawColorbar(document.getElementById("colorbar"));
</script>
</body>
</html>
